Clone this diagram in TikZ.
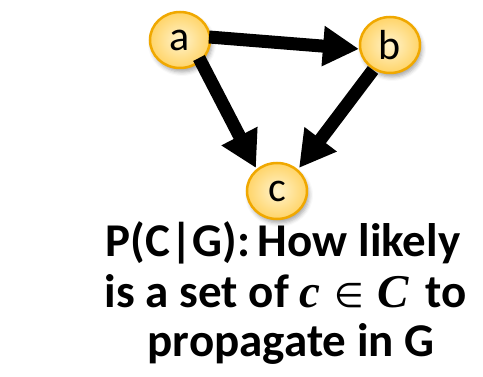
\documentclass[tikz,border=0pt]{standalone}
\usepackage{fontspec}
\setmainfont{Carlito}
\newfontfamily\myserif{Liberation Serif}
\newfontfamily\mydeja{DejaVu Sans}
\usetikzlibrary{arrows.meta,shadows.blur,shapes.geometric}
\definecolor{nodeborder}{HTML}{F0A800}
\definecolor{nodeinner}{HTML}{FFF3CC}
\definecolor{nodeouter}{HTML}{FFD468}
\tikzset{
  vertex/.style={ellipse, minimum width=60pt, minimum height=56pt, inner sep=0pt,
    draw=nodeborder, line width=2.5pt, inner color=nodeinner, outer color=nodeouter,
    blur shadow={shadow xshift=2pt, shadow yshift=-4pt, shadow blur radius=4pt, shadow opacity=35},
    font=\fontsize{42}{42}\selectfont},
  edge/.style={line width=13pt, -{Triangle[width=38pt,length=36pt]}, black},
  caption/.style={font=\bfseries\fontsize{47}{50}\selectfont, align=center, inner sep=0pt}
}
\begin{document}
\begin{tikzpicture}[x=1pt,y=-1pt]
\useasboundingbox (0,0) rectangle (483,377);
\node[vertex] (c) at (277,191) {c};
\node[vertex] (a) at (180,40) {a};
\node[vertex] (b) at (390,45) {b};
\coordinate (abS) at (209,37);
\coordinate (abT) at (359,49);
\coordinate (acS) at (199,58);
\coordinate (acT) at (256,168);
\coordinate (bcS) at (373,70);
\coordinate (bcT) at (299,168);
\draw[edge] (abS) -- (abT);
\draw[edge] (acS) -- (acT);
\draw[edge] (bcS) -- (bcT);
\node[caption, anchor=base] (t1) at (283,257) {P(C|G):\,How likely};
\node[caption, anchor=base] (t2) at (286,308) {is a set of {\myserif\bfseries\itshape c}\kern14pt{\mydeja\mdseries\fontsize{34}{34}\selectfont ∈}\kern14pt{\myserif\bfseries\itshape C}\kern6pt{} to};
\node[caption, anchor=base] (t3) at (291,357) {propagate in G};
\end{tikzpicture}
\end{document}
